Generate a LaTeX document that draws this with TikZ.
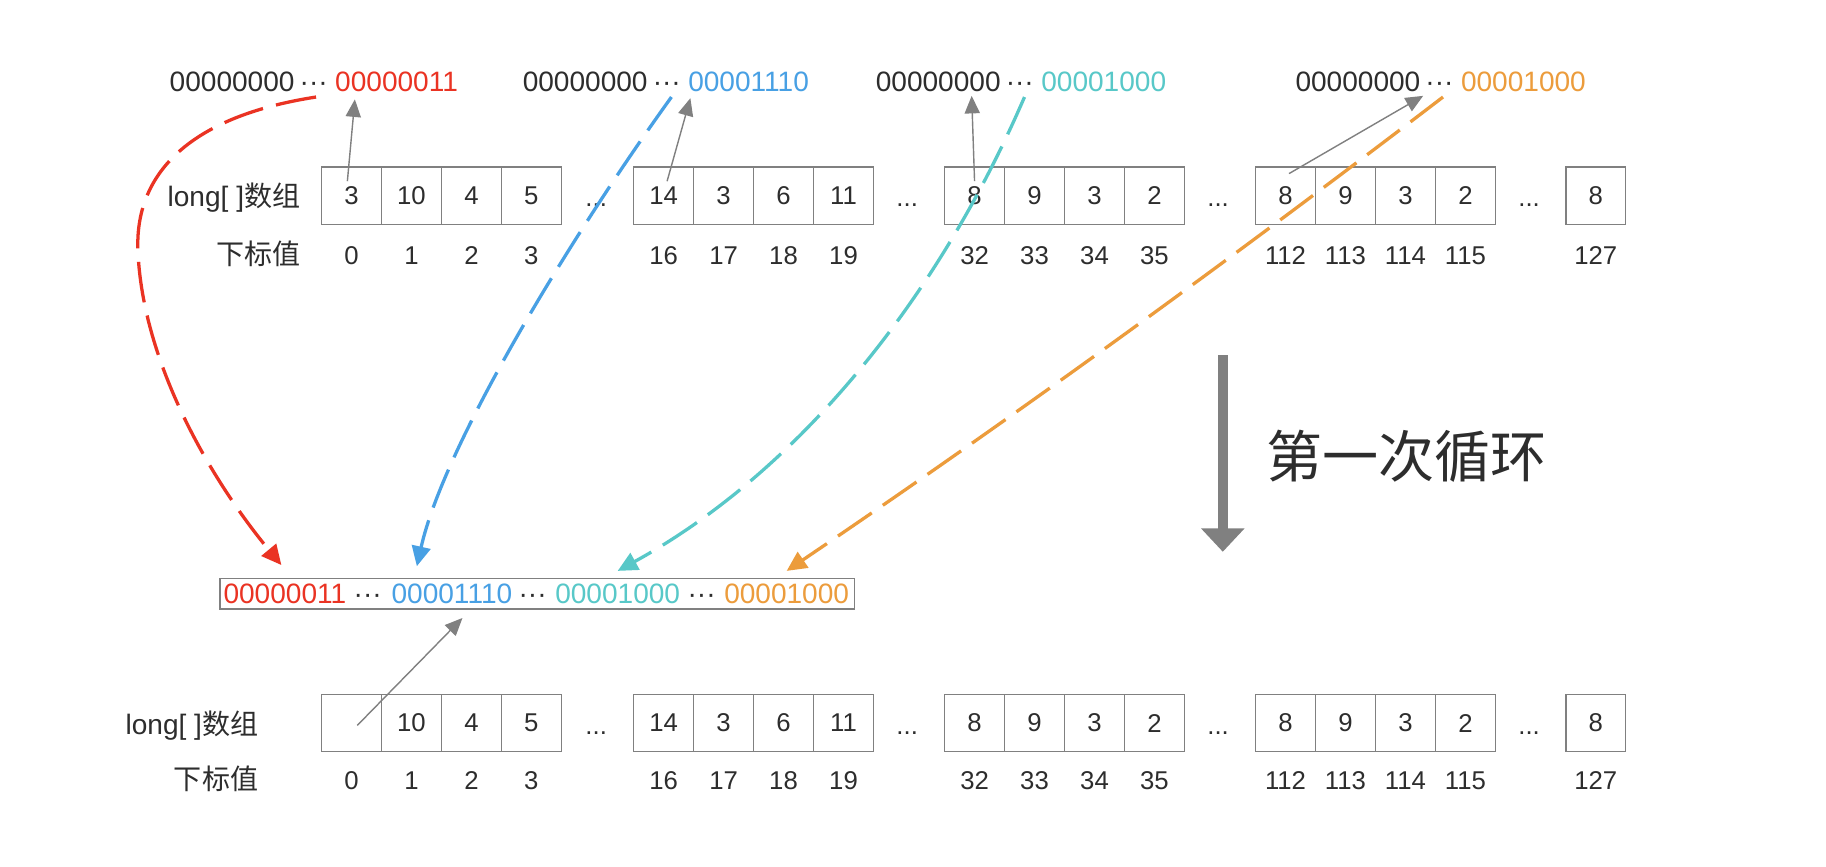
\documentclass[tikz,border=0pt]{standalone}
\usepackage{fontspec}
\setmainfont{Liberation Sans}
\newfontfamily\cjk{Noto Sans CJK SC}
\usetikzlibrary{arrows.meta,calc}
\definecolor{cred}{RGB}{234,51,35}
\definecolor{cblue}{RGB}{72,160,228}
\definecolor{cteal}{RGB}{88,200,200}
\definecolor{corange}{RGB}{236,156,60}
\definecolor{cgray}{RGB}{128,128,128}
\definecolor{ctext}{RGB}{45,45,45}
\newcommand\toprow[5]{%
  \node[bits,text=ctext] (#1a) at (#2,#3) {00000000};
  \node[bits,text=ctext] (#1d) at ([xshift=4pt]#1a.base east) {···};
  \node[bits,text=#4] (#1b) at ([xshift=6pt]#1d.base east) {#5};}
\begin{document}
\begin{tikzpicture}[x=1pt,y=-1pt,
  cell/.style={draw=cgray,line width=1.3pt,minimum width=51.3pt,minimum height=49pt,inner sep=0pt,font=\fontsize{22}{22}\selectfont,text=ctext},
  idx/.style={font=\fontsize{22}{22}\selectfont,text=ctext,inner sep=0pt,anchor=base},
  lbl/.style={font=\fontsize{24}{24}\selectfont,text=ctext,inner sep=0pt,anchor=base east},
  bits/.style={font=\fontsize{24}{24}\selectfont,inner sep=0pt,anchor=base west},
  ptr/.style={draw=cgray,line width=1.2pt,-{Triangle[length=15pt,width=13pt]}},
  flow/.style={line width=2.8pt,dash pattern=on 35pt off 11.5pt,-{Triangle[length=17pt,width=16pt]}},
]
\fill[white] (0,0) rectangle (1562,741);
\useasboundingbox (0,0) rectangle (1562,741);

% top strings
\toprow{t1}{145}{78}{cred}{00000011}
\toprow{t2}{447}{78}{cblue}{00001110}
\toprow{t3}{749}{78}{cteal}{00001000}
\toprow{t4}{1108}{78}{corange}{00001000}

% row 1
\node[lbl] (l1) at (257,177) {long[ ]{\cjk 数组}};
\node[lbl] (k1) at (257,226) {\cjk 下标值};
\foreach \cx/\v/\ix/\n in {300.65/3/0/0, 351.95/10/1/1, 403.25/4/2/2, 454.55/5/3/3,
  567.65/14/16/4, 618.95/3/17/5, 670.25/6/18/6, 721.55/11/19/7,
  833.65/8/32/8, 884.95/9/33/9, 936.25/3/34/10, 987.55/2/35/11,
  1099.65/8/112/12, 1150.95/9/113/13, 1202.25/3/114/14, 1253.55/2/115/15, 1365/8/127/16} {
  \node[cell] (a\n) at (\cx,167.5) {\v};
  \node[idx] (ai\n) at (\cx,226) {\ix};
}
\foreach \cx/\n in {510/1,776/2,1042/3,1308/4} {
  \node[idx] (ad\n) at (\cx,177) {...};
}

% row 2
\node[lbl] (l2) at (221,628) {long[ ]{\cjk 数组}};
\node[lbl] (k2) at (221,675) {\cjk 下标值};
\foreach \cx/\v/\ix/\n in {300.65/3/0/0, 351.95/10/1/1, 403.25/4/2/2, 454.55/5/3/3,
  567.65/14/16/4, 618.95/3/17/5, 670.25/6/18/6, 721.55/11/19/7,
  833.65/8/32/8, 884.95/9/33/9, 936.25/3/34/10, 987.55/2/35/11,
  1099.65/8/112/12, 1150.95/9/113/13, 1202.25/3/114/14, 1253.55/2/115/15, 1365/8/127/16} {
  \node[cell] (b\n) at (\cx,618.5) {\ifnum\n=0\relax\else\v\fi};
  \node[idx] (bi\n) at (\cx,675) {\ix};
}
\foreach \cx/\n in {510/1,776/2,1042/3,1308/4} {
  \node[idx] (bd\n) at (\cx,628) {...};
}

% middle box
\node[draw=cgray,line width=1.3pt,minimum width=543pt,minimum height=26pt,inner sep=0pt] (mbox) at (459.5,508) {};
\node[bits,text=cred] (m1) at (191,516.5) {00000011};
\node[bits,text=ctext] (md1) at ([xshift=6pt]m1.base east) {···};
\node[bits,text=cblue] (m2) at ([xshift=8pt]md1.base east) {00001110};
\node[bits,text=ctext] (md2) at ([xshift=5pt]m2.base east) {···};
\node[bits,text=cteal] (m3) at ([xshift=7pt]md2.base east) {00001000};
\node[bits,text=ctext] (md3) at ([xshift=6pt]m3.base east) {···};
\node[bits,text=corange] (m4) at ([xshift=7pt]md3.base east) {00001000};

% gray pointers
\draw[ptr] ($(a0.center)+(-3.5,-12.5)$) -- ($(t1b.base west)+(17,7)$);
\draw[ptr] ($(a4.center)+(3,-12.5)$) -- ($(t2b.base west)+(2,6)$);
\draw[ptr] ($(a8.center)+(0,-12.5)$) -- ($(t3a.base east)+(-25,4)$);
\draw[ptr] ($(a12.center)+(3,-19)$) -- ($(t4d.base)+(-14,4)$);
\draw[ptr] ($(b0.center)+(5,2)$) -- ($(mbox.south -| m2.center)+(9,7)$);

% coloured flows
\draw[flow,draw=cred]
  ($(t1d.base)+(2,5)$) .. controls (160,100) and (115,150) .. (118,215)
  .. controls (122,310) and (180,410) .. ($(mbox.north -| m1.center)+(-3,-11)$);
\draw[flow,draw=cblue]
  ($(t2d.base)+(4,5)$) .. controls (490,200) and (380,380) .. ($(mbox.north -| m2.center)+(-30,-10)$);
\draw[flow,draw=cteal]
  ($(t3d.base)+(4,5)$) .. controls (800,260) and (680,405) .. ($(mbox.north -| m3.center)+(0,-6)$);
\draw[flow,draw=corange]
  ($(t4d.base)+(3,5)$) .. controls (1058,218) and (870,355) .. ($(mbox.north -| m4.center)+(0,-6)$);

% big arrow and caption
\coordinate (bigS) at (1046,304);
\coordinate (bigE) at (1046,472);
\draw[draw=cgray,line width=8.5pt,-{Triangle[length=20pt,width=36pt]}] (bigS) -- (bigE);
\node[font=\cjk\fontsize{48}{48}\selectfont,text=ctext,inner sep=0pt,anchor=west] (loop) at (1083,390) {第一次循环};
\end{tikzpicture}
\end{document}
